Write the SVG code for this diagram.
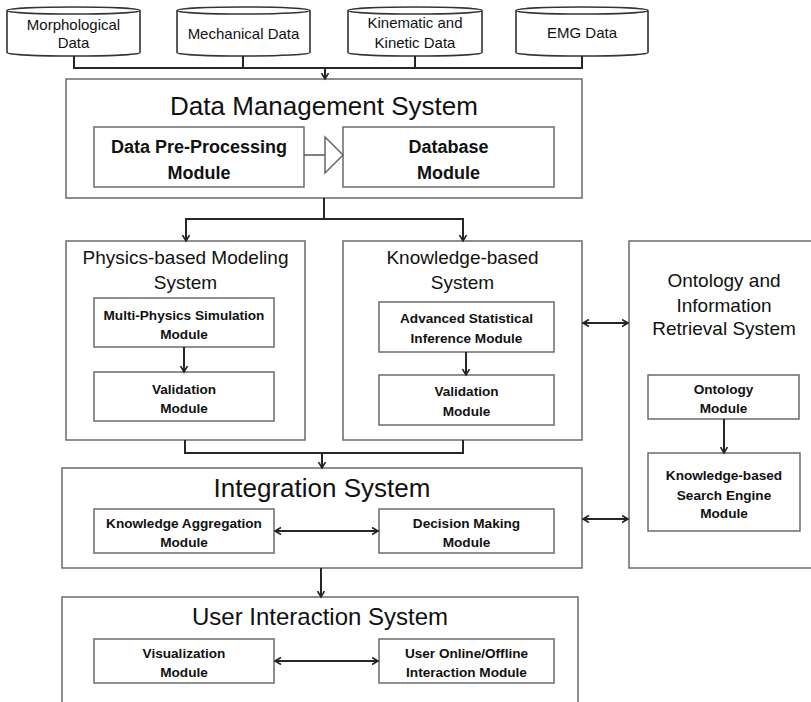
<svg xmlns="http://www.w3.org/2000/svg" width="811" height="702" viewBox="0 0 811 702">
<defs>
<marker id="ah" markerUnits="userSpaceOnUse" markerWidth="10" markerHeight="10" refX="6.5" refY="4" orient="auto-start-reverse">
<path d="M0.5,0.5 L6.5,4 L0.5,7.5" fill="none" stroke="#222" stroke-width="1.6"/>
</marker>
<style>
.box{fill:#fff;stroke:#6a6a6a;stroke-width:1.5}
.cyl{fill:#fff;stroke:#333;stroke-width:1.6}
.con{fill:none;stroke:#262626;stroke-width:2}
.t{font-family:"Liberation Sans",Arial,sans-serif;fill:#111;text-anchor:middle}
.cy{font-size:15px}
.big{font-size:26px}
.mid{font-size:19px}
.sb{font-size:13.6px;font-weight:bold}
.db{font-size:18px;font-weight:bold}
</style>
</defs>
<rect width="811" height="702" fill="#fff"/>

<g id="morphological">
<path class="cyl" d="M7,10.5 A66.5,3.5 0 0 1 140,10.5 V52.5 A66.5,3.5 0 0 1 7,52.5 Z M7,10.5 A66.5,3.5 0 0 0 140,10.5"/>
<text class="t cy" x="73.5" y="30">Morphological</text>
<text class="t cy" x="73.5" y="48">Data</text>
</g>
<g id="mechanical">
<path class="cyl" d="M177,10.5 A66.5,3.5 0 0 1 310,10.5 V52.5 A66.5,3.5 0 0 1 177,52.5 Z M177,10.5 A66.5,3.5 0 0 0 310,10.5"/>
<text class="t cy" x="243.5" y="39">Mechanical Data</text>
</g>
<g id="kinematic">
<path class="cyl" d="M348,10.5 A67,3.5 0 0 1 482,10.5 V52.5 A67,3.5 0 0 1 348,52.5 Z M348,10.5 A67,3.5 0 0 0 482,10.5"/>
<text class="t cy" x="415" y="28">Kinematic and</text>
<text class="t cy" x="415" y="48">Kinetic Data</text>
</g>
<g id="emg">
<path class="cyl" d="M516,10.5 A66,3.5 0 0 1 648,10.5 V52.5 A66,3.5 0 0 1 516,52.5 Z M516,10.5 A66,3.5 0 0 0 648,10.5"/>
<text class="t cy" x="582" y="38">EMG Data</text>
</g>

<g id="data-management">
<rect class="box" x="66" y="79" width="516" height="119"/>
<text class="t big" x="324" y="115">Data Management System</text>
<g id="preprocessing">
<rect class="box" x="94" y="127" width="210" height="60"/>
<text class="t db" x="199" y="153">Data Pre-Processing</text>
<text class="t db" x="199" y="179">Module</text>
</g>
<g id="database">
<rect class="box" x="343" y="127" width="211" height="60"/>
<text class="t db" x="448.5" y="153">Database</text>
<text class="t db" x="448.5" y="179">Module</text>
</g>
</g>

<g id="physics">
<rect class="box" x="66" y="241" width="239" height="199"/>
<text class="t mid" x="185.5" y="264">Physics-based Modeling</text>
<text class="t mid" x="185.5" y="289">System</text>
<g id="multiphysics">
<rect class="box" x="94" y="298" width="180" height="49"/>
<text class="t sb" x="184" y="320">Multi-Physics Simulation</text>
<text class="t sb" x="184" y="339">Module</text>
</g>
<g id="validation1">
<rect class="box" x="94" y="372" width="180" height="49"/>
<text class="t sb" x="184" y="394">Validation</text>
<text class="t sb" x="184" y="413">Module</text>
</g>
</g>

<g id="knowledge">
<rect class="box" x="343" y="241" width="239" height="199"/>
<text class="t mid" x="462.5" y="264">Knowledge-based</text>
<text class="t mid" x="462.5" y="289">System</text>
<g id="statistical">
<rect class="box" x="379" y="302" width="175" height="50"/>
<text class="t sb" x="466.5" y="323">Advanced Statistical</text>
<text class="t sb" x="466.5" y="343">Inference Module</text>
</g>
<g id="validation2">
<rect class="box" x="379" y="375" width="175" height="50"/>
<text class="t sb" x="466.5" y="396">Validation</text>
<text class="t sb" x="466.5" y="416">Module</text>
</g>
</g>

<g id="ontology-system">
<rect class="box" x="629" y="241" width="190" height="327"/>
<text class="t mid" x="724" y="287">Ontology  and</text>
<text class="t mid" x="724" y="312">Information</text>
<text class="t mid" x="724" y="335">Retrieval System</text>
<g id="ontology-module">
<rect class="box" x="648" y="375" width="151" height="44"/>
<text class="t sb" x="723.5" y="394">Ontology</text>
<text class="t sb" x="723.5" y="413">Module</text>
</g>
<g id="search-engine">
<rect class="box" x="648" y="453" width="152" height="78"/>
<text class="t sb" x="724" y="480">Knowledge-based</text>
<text class="t sb" x="724" y="500">Search Engine</text>
<text class="t sb" x="724" y="518">Module</text>
</g>
</g>

<g id="integration">
<rect class="box" x="62" y="468" width="520" height="100"/>
<text class="t big" x="322" y="497">Integration System</text>
<g id="aggregation">
<rect class="box" x="94" y="509" width="180" height="44"/>
<text class="t sb" x="184" y="528">Knowledge Aggregation</text>
<text class="t sb" x="184" y="547">Module</text>
</g>
<g id="decision">
<rect class="box" x="379" y="509" width="175" height="44"/>
<text class="t sb" x="466.5" y="528">Decision Making</text>
<text class="t sb" x="466.5" y="547">Module</text>
</g>
</g>

<g id="user-interaction">
<rect class="box" x="62" y="597" width="516" height="120"/>
<text class="t" x="320" y="625" font-size="24">User Interaction System</text>
<g id="visualization">
<rect class="box" x="94" y="639" width="180" height="44"/>
<text class="t sb" x="184" y="658">Visualization</text>
<text class="t sb" x="184" y="677">Module</text>
</g>
<g id="online">
<rect class="box" x="379" y="639" width="175" height="44"/>
<text class="t sb" x="466.5" y="658">User Online/Offline</text>
<text class="t sb" x="466.5" y="677">Interaction Module</text>
</g>
</g>

<g id="connectors">
<path class="con" d="M74,56 V68 M243,56 V68 M415,56 V68 M582,56 V68 M73,68 H583"/>
<path class="con" d="M325,68 V79" marker-end="url(#ah)"/>
<path d="M304,155 H325" fill="none" stroke="#555" stroke-width="1.5"/>
<polygon points="325,137 343,155 325,173" fill="#fff" stroke="#666" stroke-width="1.5"/>
<path class="con" d="M324,198 V219 H186 V241" marker-end="url(#ah)"/>
<path class="con" d="M324,219 H463 V241" marker-end="url(#ah)"/>
<path class="con" d="M184,347 V372" marker-end="url(#ah)"/>
<path class="con" d="M466,352 V375" marker-end="url(#ah)"/>
<path class="con" d="M185,440 V453 H463 V440"/>
<path class="con" d="M322,453 V468" marker-end="url(#ah)"/>
<path class="con" d="M321,568 V597" marker-end="url(#ah)"/>
<path class="con" d="M724,419 V453" marker-end="url(#ah)"/>
<path class="con" d="M583,323 H628" marker-start="url(#ah)" marker-end="url(#ah)"/>
<path class="con" d="M583,519 H628" marker-start="url(#ah)" marker-end="url(#ah)"/>
<path class="con" d="M275,531 H378" marker-start="url(#ah)" marker-end="url(#ah)"/>
<path class="con" d="M275,661 H378" marker-start="url(#ah)" marker-end="url(#ah)"/>
</g>
</svg>
